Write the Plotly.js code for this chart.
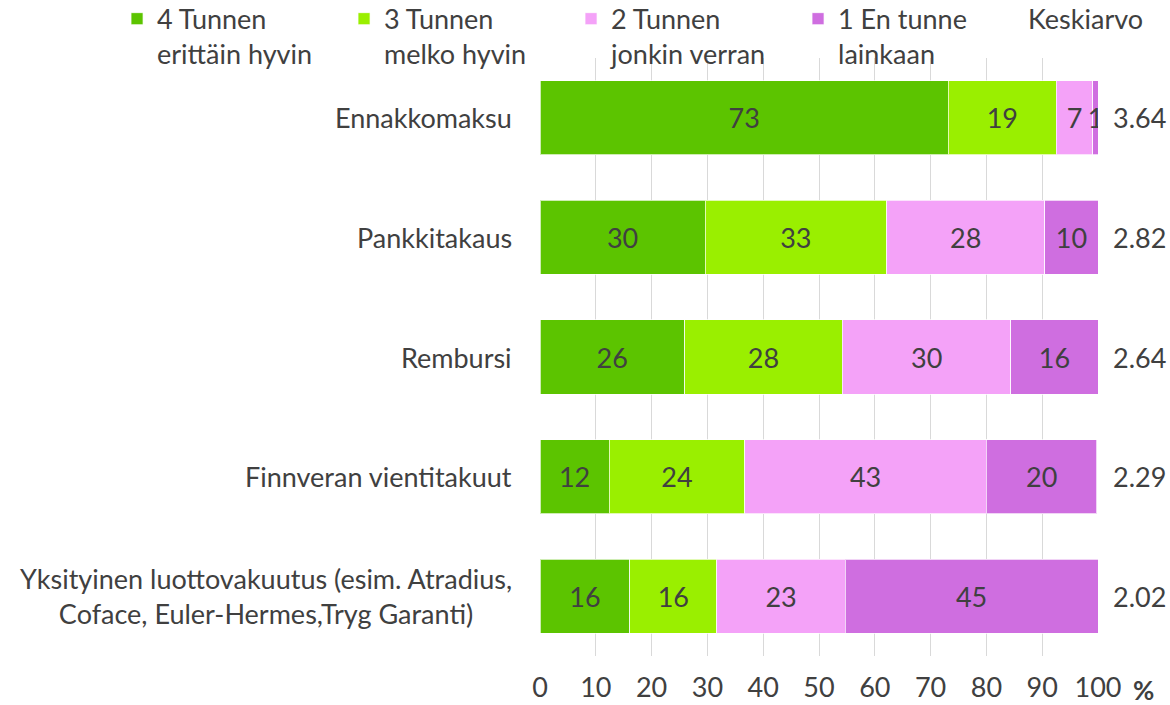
<!DOCTYPE html>
<html><head><meta charset="utf-8">
<script src="https://cdn.plot.ly/plotly-3.0.1.min.js"></script>
<style>html,body{margin:0;padding:0;background:#fff}</style>
</head><body>
<div id="chart" style="width:1170px;height:705px"></div>
<script>
const categories = ["Ennakkomaksu", "Pankkitakaus", "Rembursi", "Finnveran vientitakuut",
  "Yksityinen luottovakuutus (esim. Atradius,<br>Coface, Euler-Hermes,Tryg Garanti)"];
const seriesNames = ["4 Tunnen<br>erittäin hyvin", "3 Tunnen<br>melko hyvin", "2 Tunnen<br>jonkin verran", "1 En tunne<br>lainkaan"];
const s4 = [73.2, 29.6, 25.9, 12.4, 16.1];
const s3 = [19.3, 32.5, 28.3, 24.3, 15.6];
const s2 = [6.6, 28.4, 30.2, 43.3, 23.0];
const s1 = [0.9, 9.5, 15.6, 19.8, 45.3];
const averages = ["3.64", "2.82", "2.64", "2.29", "2.02"];
const xTicks = [0, 10, 20, 30, 40, 50, 60, 70, 80, 90, 100];

const colors = ["#5CC400", "#9AEF00", "#F4A2F8", "#CF6EE0"];
const FONT = "Lato, Liberation Sans, Arial, sans-serif";
const FS = 27;
const TXT = "#404040";
const allSeries = [s4, s3, s2, s1];

const traces = allSeries.map((vals, i) => ({
  type: "bar", orientation: "h", name: seriesNames[i],
  x: vals, y: categories,
  marker: {color: colors[i], line: {color: "rgba(255,255,255,0.7)", width: 1}},
  texttemplate: "%{x:.0f}", textposition: "inside", insidetextanchor: "middle",
  textfont: {family: FONT, size: FS, color: TXT},
  hoverinfo: "skip"
}));

const annotations = [];
categories.forEach((c, i) => {
  annotations.push({xref: "paper", yref: "y", x: -0.047, y: c, text: c, showarrow: false,
    xanchor: "right", align: "center", font: {family: FONT, size: FS, color: TXT}});
  annotations.push({xref: "paper", yref: "y", x: 1.075, y: c, text: averages[i], showarrow: false,
    xanchor: "center", font: {family: FONT, size: FS, color: TXT}});
});
annotations.push({xref: "paper", yref: "paper", x: 0.977, y: 1.066, text: "Keskiarvo", showarrow: false,
  xanchor: "center", yanchor: "middle", font: {family: FONT, size: FS, color: TXT}});
annotations.push({xref: "paper", yref: "paper", x: 1.082, y: -0.057, text: "<b>%</b>", showarrow: false,
  xanchor: "center", yanchor: "middle", font: {family: FONT, size: FS - 1, color: TXT}});

const layout = {
  width: 1170, height: 705,
  margin: {l: 540, r: 72, t: 58, b: 49, autoexpand: false},
  paper_bgcolor: "#fff", plot_bgcolor: "#fff",
  barmode: "stack", bargap: 0.38,
  font: {family: FONT, size: FS, color: TXT},
  xaxis: {range: [0, 100], tickvals: xTicks, ticktext: xTicks.map(String),
    showgrid: true, gridcolor: "#D9D9D9", gridwidth: 1, zeroline: false,
    showline: false, ticks: "", ticklabelstandoff: 13,
    tickfont: {family: FONT, size: FS, color: TXT}, fixedrange: true},
  yaxis: {categoryorder: "array", categoryarray: categories, autorange: "reversed",
    showticklabels: false, showgrid: false, zeroline: false, ticks: "", fixedrange: true},
  showlegend: true,
  legend: {orientation: "h", x: -0.758, xanchor: "left", y: 1.106, yanchor: "top",
    valign: "top", traceorder: "normal", font: {family: FONT, size: FS, color: TXT},
    itemwidth: 30, entrywidth: 182, entrywidthmode: "pixels", bgcolor: "rgba(0,0,0,0)"},
  uniformtext: {mode: "show", minsize: FS},
  annotations: annotations
};

Plotly.newPlot("chart", traces, layout, {displayModeBar: false, staticPlot: true});
</script>
</body></html>
